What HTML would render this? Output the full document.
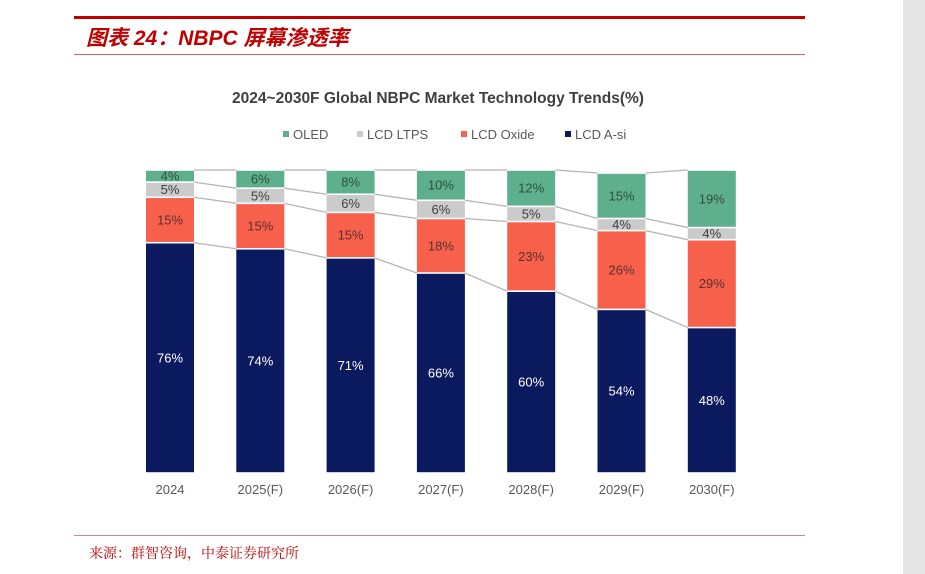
<!DOCTYPE html>
<html><head><meta charset="utf-8">
<style>
body{margin:0;width:925px;height:574px;background:#fff;position:relative;overflow:hidden;font-family:"Liberation Sans",sans-serif}
#strip{position:absolute;left:903px;top:0;width:22px;height:574px;background:#e6e6e6}
</style></head>
<body>
<div id="strip"></div>
<svg width="925" height="574" style="position:absolute;left:0;top:0">
  <rect x="74" y="16" width="731" height="3" fill="#c00000"/>
  <text x="86" y="45" font-size="21" font-weight="bold" font-style="italic" fill="#c00000" font-family="Liberation Sans,'Noto Sans CJK SC',sans-serif">图表 24：NBPC 屏幕渗透率</text>
  <rect x="74" y="54" width="731" height="1" fill="#c66"/>
  <text x="438" y="103" font-size="15.5" font-weight="bold" fill="#404040" text-anchor="middle">2024~2030F Global NBPC Market Technology Trends(%)</text>
  <g id="legend"></g>
  <g id="chart"></g>
  <rect x="74" y="535" width="731" height="1" fill="#c88"/>
  <text x="89" y="558" font-size="14" fill="#c00000" font-family="Liberation Serif,'Noto Serif CJK SC',serif">来源：群智咨询，中泰证券研究所</text>
</svg>
<script>
const categories=["2024","2025(F)","2026(F)","2027(F)","2028(F)","2029(F)","2030(F)"];
const asi=[76,74,71,66,60,54,48];
const oxide=[15,15,15,18,23,26,29];
const ltps=[5,5,6,6,5,4,4];
const oled=[4,6,8,10,12,15,19];
const seriesNames=["OLED","LCD LTPS","LCD Oxide","LCD A-si"];

const NS="http://www.w3.org/2000/svg";
const colors={"LCD A-si":"#0b1a5e","LCD Oxide":"#f7604b","LCD LTPS":"#cbcbcb","OLED":"#5daf8d"};
const textCol={"LCD A-si":"#fff","LCD Oxide":"#5a3030","LCD LTPS":"#404040","OLED":"#2f4f40"};
const stack=[["LCD A-si",asi],["LCD Oxide",oxide],["LCD LTPS",ltps],["OLED",oled]];
const x0=170,step=90.3,bw=48,yBase=473,yTop=170;
const xc=i=>x0+i*step;
const y=v=>yBase-(v/100)*(yBase-yTop);
const chart=document.getElementById('chart');
function mk(tag,attrs,parent){const e=document.createElementNS(NS,tag);for(const k in attrs)e.setAttribute(k,attrs[k]);parent.appendChild(e);return e;}

const bounds=categories.map((c,i)=>{let acc=0;const b=[];stack.forEach(s=>{acc+=s[1][i];b.push(acc);});return b;});
for(let i=0;i<categories.length-1;i++){
  for(let k=0;k<4;k++){
    const l=mk('line',{x1:xc(i)+bw/2,y1:y(bounds[i][k]),x2:xc(i+1)-bw/2,y2:y(bounds[i+1][k]),stroke:'#b5b5b5','stroke-width':1.3},chart);
    
    
  }
}
categories.forEach((c,i)=>{
  let acc=0;
  stack.forEach(([name,vals])=>{
    const v=vals[i];const yb=y(acc),yt=y(acc+v);acc+=v;
    const r=mk('rect',{x:xc(i)-bw/2,y:yt+0.8,width:bw,height:Math.max(0,yb-yt-1.6),fill:colors[name]},chart);
    
    
    const t=mk('text',{x:xc(i),y:(yt+yb)/2+4.5,'font-size':13,fill:textCol[name],'text-anchor':'middle'},chart);
    t.textContent=v+'%';
    
    
  });
  const t=mk('text',{x:xc(i),y:494,'font-size':13,fill:'#595959','text-anchor':'middle'},chart);
  t.textContent=c;
  
  
});
const lg=document.getElementById('legend');
const lx=[283,357,461,565];
seriesNames.forEach((n,i)=>{
  const r=mk('rect',{x:lx[i],y:131,width:6,height:6,fill:colors[n]},lg);
  
  
  const t=mk('text',{x:lx[i]+10,y:139,'font-size':13,fill:'#595959'},lg);
  t.textContent=n;
  
  
});
</script>
</body></html>
